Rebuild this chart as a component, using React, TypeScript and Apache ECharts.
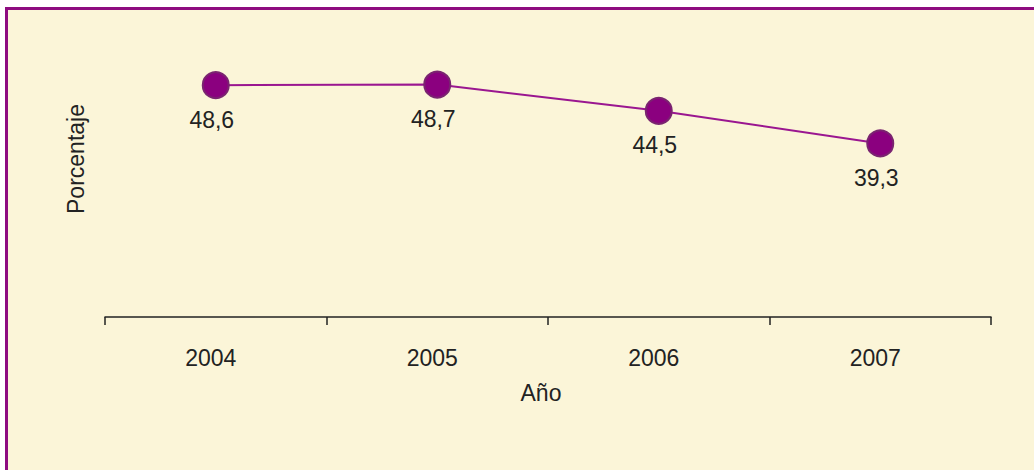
import React, { useEffect, useRef } from "react";
import * as echarts from "echarts";

const categories = ["2004", "2005", "2006", "2007"];
const values = [48.6, 48.7, 44.5, 39.3];
const xName = "Año";
const yName = "Porcentaje";

export default function App() {
  const ref = useRef<HTMLDivElement>(null);
  useEffect(() => {
    if (!ref.current) return;
    const chart = echarts.init(ref.current, null, { renderer: "svg" });
    const font = "'Liberation Sans', Arial, sans-serif";
    chart.setOption({
      animation: false,
      backgroundColor: "#ffffff",
      graphic: [
        {
          type: "rect",
          z: -10,
          shape: { x: 6.5, y: 8.5, width: 1100, height: 500 },
          style: { fill: "#FBF5D8", stroke: "#8E0C80", lineWidth: 3 },
          silent: true,
        },
        {
          type: "text",
          x: 76,
          y: 159,
          rotation: Math.PI / 2,
          style: {
            text: yName,
            font: `23px ${font}`,
            fill: "#222",
            align: "center",
            verticalAlign: "middle",
          },
        },
      ],
      grid: { left: 105, right: 43, top: 20, bottom: 153 },
      xAxis: {
        type: "category",
        data: categories,
        boundaryGap: true,
        name: xName,
        nameLocation: "middle",
        nameGap: 64,
        nameTextStyle: { fontSize: 23, color: "#222", fontFamily: font, padding: [0, 14, 0, 0] },
        axisLine: { show: true, lineStyle: { color: "#222", width: 1.5 } },
        axisTick: { show: true, length: 8, lineStyle: { color: "#222", width: 1.5 } },
        axisLabel: { fontSize: 23, color: "#222", fontFamily: font, margin: 29, padding: [0, 10, 0, 0] },
        splitLine: { show: false },
      },
      yAxis: {
        type: "value",
        min: 11.6,
        max: 59,
        show: false,
      },
      series: [
        {
          type: "line",
          data: values,
          symbol: "circle",
          symbolSize: 26,
          lineStyle: { color: "#9A1690", width: 2 },
          itemStyle: { color: "#8B007F", borderColor: "#7A2470", borderWidth: 2 },
          label: {
            show: true,
            position: "bottom",
            distance: 9,
            fontSize: 23,
            color: "#222",
            fontFamily: font,
            padding: [0, 8, 0, 0],
            formatter: (p: any) => String(p.value).replace(".", ","),
          },
        },
      ],
    });
    return () => chart.dispose();
  }, []);
  return (
    <div
      ref={ref}
      style={{ position: "fixed", left: 0, top: 0, width: 1034, height: 470 }}
    />
  );
}
